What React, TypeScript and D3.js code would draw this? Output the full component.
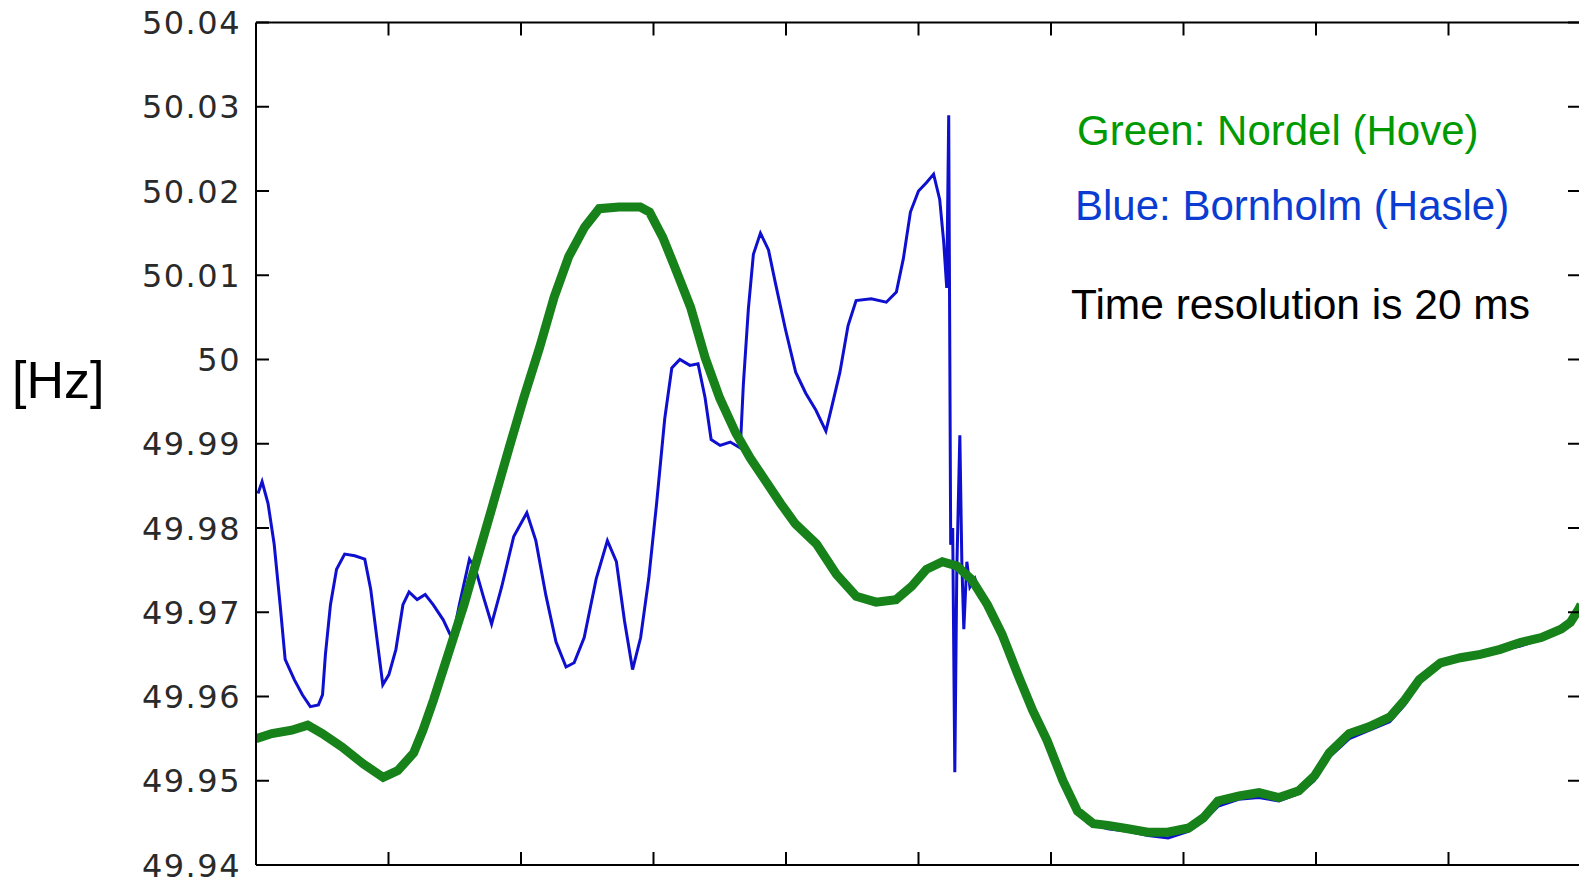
import React from "react";
import * as d3 from "d3";

// y axis ticks (Hz) as printed on the chart
const yTickValues = [49.94, 49.95, 49.96, 49.97, 49.98, 49.99, 50.0, 50.01, 50.02, 50.03, 50.04];
const yTickLabels = ["49.94", "49.95", "49.96", "49.97", "49.98", "49.99", "50", "50.01", "50.02", "50.03", "50.04"];
// x ticks have no visible labels (cut off below the frame)
const xTickValues = [1, 2, 3, 4, 5, 6, 7, 8, 9];

// Green: Nordel (Hove)
const nordelT = [0, 0.12, 0.27, 0.39, 0.5, 0.65, 0.81, 0.96, 1.07, 1.19, 1.26, 1.34, 1.45, 1.57, 1.68, 1.79, 1.91, 2.02, 2.14, 2.25, 2.36, 2.48, 2.59, 2.74, 2.9, 2.97, 3.07, 3.16, 3.28, 3.39, 3.5, 3.62, 3.73, 3.85, 3.96, 4.07, 4.23, 4.38, 4.53, 4.68, 4.83, 4.95, 5.06, 5.18, 5.29, 5.4, 5.52, 5.63, 5.75, 5.86, 5.97, 6.09, 6.2, 6.32, 6.43, 6.58, 6.73, 6.88, 7.04, 7.15, 7.26, 7.42, 7.57, 7.72, 7.87, 7.99, 8.1, 8.25, 8.4, 8.56, 8.67, 8.78, 8.94, 9.09, 9.24, 9.39, 9.54, 9.7, 9.85, 9.92, 9.98, 10];
const nordelHz = [49.955, 49.9556, 49.956, 49.9566, 49.9556, 49.954, 49.952, 49.9504, 49.9512, 49.9533, 49.956, 49.9596, 49.965, 49.9709, 49.9769, 49.9829, 49.9895, 49.9954, 50.0014, 50.0074, 50.0122, 50.0157, 50.0179, 50.0181, 50.0181, 50.0175, 50.0145, 50.011, 50.0062, 50.0002, 49.9954, 49.9913, 49.9883, 49.9855, 49.9829, 49.9805, 49.9781, 49.9745, 49.9719, 49.9712, 49.9715, 49.9731, 49.9751, 49.976, 49.9755, 49.9739, 49.9709, 49.9674, 49.9626, 49.9584, 49.9548, 49.95, 49.9464, 49.9449, 49.9447, 49.9443, 49.9439, 49.9439, 49.9444, 49.9456, 49.9476, 49.9482, 49.9486, 49.948, 49.9488, 49.9506, 49.9533, 49.9556, 49.9564, 49.9576, 49.9596, 49.962, 49.964, 49.9646, 49.965, 49.9656, 49.9664, 49.967, 49.968, 49.9688, 49.9703, 49.9709];

// Blue: Bornholm (Hasle)
const bornholmT = [0.015, 0.046, 0.091, 0.137, 0.182, 0.22, 0.289, 0.35, 0.41, 0.471, 0.502, 0.524, 0.562, 0.608, 0.669, 0.745, 0.821, 0.866, 0.919, 0.957, 1.003, 1.056, 1.109, 1.155, 1.216, 1.277, 1.337, 1.413, 1.482, 1.535, 1.611, 1.657, 1.717, 1.778, 1.854, 1.945, 2.044, 2.112, 2.188, 2.264, 2.34, 2.401, 2.477, 2.568, 2.652, 2.72, 2.781, 2.842, 2.903, 2.964, 3.024, 3.085, 3.138, 3.199, 3.275, 3.336, 3.389, 3.435, 3.503, 3.579, 3.655, 3.678, 3.716, 3.754, 3.807, 3.868, 3.921, 3.997, 4.073, 4.149, 4.225, 4.301, 4.347, 4.407, 4.468, 4.529, 4.643, 4.757, 4.833, 4.886, 4.939, 5.0, 5.061, 5.114, 5.16, 5.19, 5.213, 5.228, 5.243, 5.258, 5.274, 5.289, 5.312, 5.327, 5.342, 5.365, 5.388, 5.426, 5.479, 5.593, 5.707, 5.821, 5.935, 6.049, 6.163, 6.277, 6.429, 6.581, 6.733, 6.884, 7.036, 7.15, 7.264, 7.416, 7.568, 7.72, 7.872, 7.986, 8.1, 8.252, 8.404, 8.556, 8.67, 8.784, 8.936, 9.088, 9.24, 9.392, 9.544, 9.696, 9.848, 9.985];
const bornholmHz = [49.9841, 49.9855, 49.9829, 49.9781, 49.9709, 49.9644, 49.962, 49.9602, 49.9588, 49.959, 49.9602, 49.965, 49.9709, 49.9751, 49.9769, 49.9767, 49.9763, 49.9727, 49.9661, 49.9614, 49.9626, 49.9656, 49.9709, 49.9724, 49.9715, 49.9721, 49.9709, 49.9691, 49.9668, 49.9709, 49.9763, 49.9751, 49.9718, 49.9686, 49.973, 49.979, 49.9818, 49.9785, 49.972, 49.9665, 49.9635, 49.964, 49.967, 49.974, 49.9785, 49.976, 49.969, 49.9632, 49.967, 49.974, 49.983, 49.993, 49.999, 50.0, 49.9993, 49.9995, 49.9955, 49.9905, 49.9898, 49.9902, 49.9895, 49.997, 50.006, 50.0125, 50.015, 50.013, 50.009, 50.0035, 49.9985, 49.996, 49.994, 49.9915, 49.9945, 49.9985, 50.004, 50.007, 50.0072, 50.0068, 50.008, 50.012, 50.0175, 50.02, 50.021, 50.022, 50.019, 50.014, 50.0085, 50.029, 49.978, 49.98, 49.951, 49.975, 49.991, 49.976, 49.968, 49.976, 49.973, 49.974, 49.9715, 49.968, 49.964, 49.9595, 49.9555, 49.951, 49.947, 49.945, 49.9443, 49.944, 49.9435, 49.9432, 49.944, 49.9452, 49.947, 49.9478, 49.948, 49.9476, 49.9485, 49.95, 49.9528, 49.955, 49.956, 49.957, 49.959, 49.9618, 49.9638, 49.9646, 49.965, 49.9655, 49.966, 49.9668, 49.9678, 49.97];

const W = 1579;
const H = 879;
const left = 256, right = 1581, top = 22.5, bottom = 865;

export default function App() {
  const x = d3.scaleLinear().domain([0, 10]).range([left, right]);
  const y = d3.scaleLinear().domain([49.94, 50.04]).range([bottom, top]);

  const makePath = (ts: number[], vs: number[]) =>
    d3.line<number>().x(i => x(ts[i])).y(i => y(vs[i]))(d3.range(ts.length)) || "";

  const tickLen = 13;

  return (
    <svg width={W} height={H} style={{ position: "absolute", left: 0, top: 0, background: "#fff" }}>
      <defs>
        <clipPath id="plot">
          <rect x={left} y={top - 10} width={right - left} height={bottom - top + 20} />
        </clipPath>
      </defs>

      {/* series */}
      <g clipPath="url(#plot)" fill="none" strokeLinejoin="miter">
        <path d={makePath(bornholmT, bornholmHz)} stroke="#0f0fcf" strokeWidth={3} />
        <path d={makePath(nordelT, nordelHz)} stroke="#17811a" strokeWidth={9} />
      </g>

      {/* frame */}
      <g stroke="#000" strokeWidth={2} fill="none">
        <line x1={left} y1={top} x2={right} y2={top} />
        <line x1={left} y1={bottom} x2={right} y2={bottom} />
        <line x1={left} y1={top} x2={left} y2={bottom} />
        <line x1={right} y1={top} x2={right} y2={bottom} />
        {yTickValues.map(v => (
          <g key={"y" + v}>
            <line x1={left} x2={left + tickLen} y1={y(v)} y2={y(v)} />
            <line x1={right} x2={right - tickLen} y1={y(v)} y2={y(v)} />
          </g>
        ))}
        {xTickValues.map(v => (
          <g key={"x" + v}>
            <line x1={x(v)} x2={x(v)} y1={top} y2={top + tickLen} />
            <line x1={x(v)} x2={x(v)} y1={bottom} y2={bottom - tickLen} />
          </g>
        ))}
      </g>

      {/* y tick labels */}
      <g fontFamily="DejaVu Sans" fontSize={32} fill="#2a2a2a" textAnchor="end" letterSpacing={1.5}>
        {yTickValues.map((v, i) => (
          <text key={"yl" + v} x={241} y={y(v)} dy="0.36em">{yTickLabels[i]}</text>
        ))}
      </g>

      {/* axis unit */}
      <text x={12} y={398} fontFamily="Liberation Sans, Arial, sans-serif" fontSize={52} fill="#000">[Hz]</text>

      {/* annotations */}
      <g fontFamily="Liberation Sans, Arial, sans-serif" fontSize={42}>
        <text x={1077} y={145} fill="#009a00">Green: Nordel (Hove)</text>
        <text x={1075} y={220} fill="#0a3cd2">Blue: Bornholm (Hasle)</text>
        <text x={1071} y={319} fill="#000" fontSize={42.5}>Time resolution is 20 ms</text>
      </g>
    </svg>
  );
}
